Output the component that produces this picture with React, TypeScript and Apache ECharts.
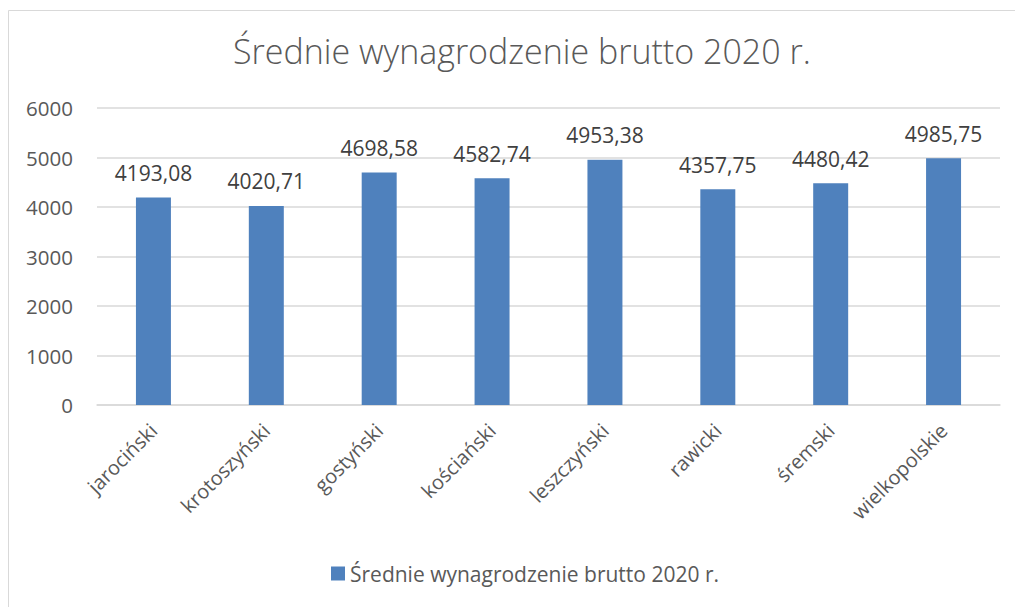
import React, { useEffect, useRef } from "react";
import * as echarts from "echarts";

const categories = ["jarociński", "krotoszyński", "gostyński", "kościański", "leszczyński", "rawicki", "śremski", "wielkopolskie"];
const values = [4193.08, 4020.71, 4698.58, 4582.74, 4953.38, 4357.75, 4480.42, 4985.75];
const seriesName = "Średnie wynagrodzenie brutto 2020 r.";
const titleText = "Średnie wynagrodzenie brutto 2020 r.";

const FONT = "'Open Sans', sans-serif";
const TEXT = "#595959";

export default function App() {
  const ref = useRef<HTMLDivElement>(null);
  useEffect(() => {
    const chart = echarts.init(ref.current!, null, { renderer: "svg" });
    chart.setOption({
      animation: false,
      backgroundColor: "#ffffff",
      title: {
        text: titleText,
        left: 228,
        top: 29,
        textStyle: { fontFamily: FONT, fontSize: 34, fontWeight: 300, color: TEXT },
      },
      graphic: [
        {
          type: "rect",
          shape: { x: 8.5, y: 10.5, width: 1100, height: 700 },
          style: { fill: "none", stroke: "#d9d9d9", lineWidth: 1 },
          silent: true,
        },
      ],
      legend: {
        bottom: 18,
        left: 326,
        itemWidth: 14,
        itemHeight: 14,
        icon: "rect",
        itemGap: 6,
        textStyle: { fontFamily: FONT, fontSize: 21, color: TEXT },
        data: [seriesName],
      },
      grid: { left: 97, right: 15, top: 108, bottom: 202, containLabel: false },
      xAxis: {
        type: "category",
        data: categories,
        axisLine: { lineStyle: { color: "#d9d9d9", width: 1.5 } },
        axisTick: { show: false },
        axisLabel: {
          rotate: 45,
          margin: 22,
          interval: 0,
          fontFamily: FONT,
          fontSize: 20,
          color: TEXT,
        },
      },
      yAxis: {
        type: "value",
        min: 0,
        max: 6000,
        interval: 1000,
        axisLine: { show: false },
        axisTick: { show: false },
        splitLine: { lineStyle: { color: "#d9d9d9", width: 1.5 } },
        axisLabel: {
          margin: 24,
          fontFamily: FONT,
          fontSize: 20.5,
          color: TEXT,
          formatter: (v: number) => String(v),
        },
      },
      series: [
        {
          name: seriesName,
          type: "bar",
          data: values,
          barWidth: "31%",
          itemStyle: { color: "#4f81bd" },
          label: {
            show: true,
            position: "top",
            distance: 14,
            fontFamily: FONT,
            fontSize: 21,
            color: "#404040",
            formatter: (p: any) => p.value.toFixed(2).replace(".", ","),
          },
        },
      ],
    });
    return () => chart.dispose();
  }, []);
  return <div ref={ref} style={{ position: "absolute", left: 0, top: 0, width: 1015, height: 607 }} />;
}
